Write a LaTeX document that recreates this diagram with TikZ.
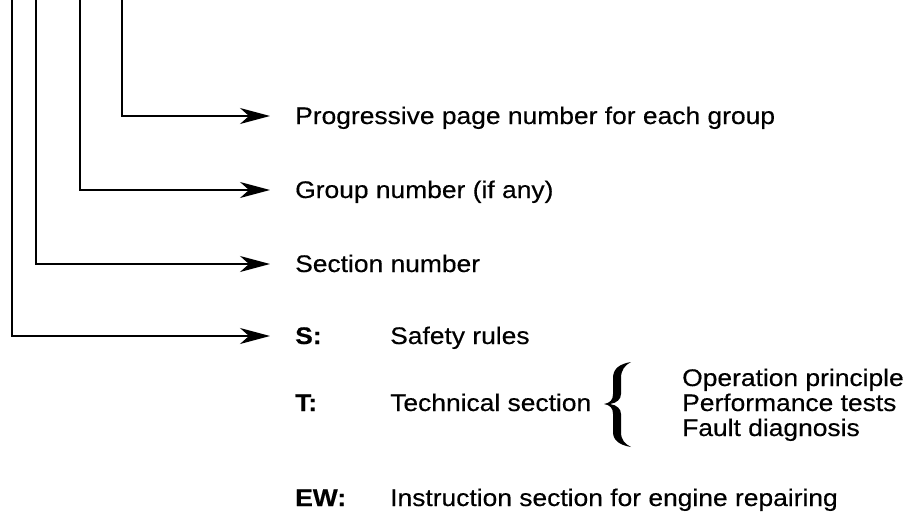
\documentclass[tikz,border=0pt]{standalone}
\usepackage{fontspec}
\setmainfont[FakeStretch=1.1,FakeBold=0.4,BoldFeatures={FakeStretch=1.1}]{Liberation Sans}
\usetikzlibrary{arrows.meta}
\begin{document}
\begin{tikzpicture}[x=1pt,y=-1pt,
  lbl/.style={anchor=base west,inner sep=0pt,font=\fontsize{24}{26}\selectfont},
  key/.style={lbl,font=\fontsize{24}{26}\selectfont\bfseries},
  conn/.style={line width=1.1pt,-{Stealth[length=30pt,width=16pt,inset=9pt]}}]
\useasboundingbox (0,0) rectangle (910,525);
% top anchors of the vertical leaders
\coordinate (c1) at (12,0);
\coordinate (c2) at (36,0);
\coordinate (c3) at (80,0);
\coordinate (c4) at (122,0);
% arrow tips
\coordinate (t1) at (270,116);
\coordinate (t2) at (270,190);
\coordinate (t3) at (270,264);
\coordinate (t4) at (270,336);
\draw[conn] (c4) |- (t1);
\draw[conn] (c3) |- (t2);
\draw[conn] (c2) |- (t3);
\draw[conn] (c1) |- (t4);
% labels
\node[lbl] (l1) at (295,124) {Progressive page number for each group};
\node[lbl] (l2) at (295,198) {Group number (if any)};
\node[lbl] (l3) at (295,272) {Section number};
\node[key] (s)  at (295,344) {S:};
\node[lbl] (sr) at (390,344) {Safety rules};
\node[key] (t)  at (295,411) {T:};
\node[lbl] (ts) at (390,411) {Technical section};
\node[lbl] (op) at (682,386) {Operation principle};
\node[lbl] (pt) at (682,411) {Performance tests};
\node[lbl] (fd) at (682,436) {Fault diagnosis};
\node[key] (ew) at (295,506) {EW:};
\node[lbl] (is) at (390,506) {Instruction section for engine repairing};
% brace
\fill (631,362) .. controls (619,364) and (613,369) .. (613,378) -- (613,394)
  .. controls (613,400) and (610,403) .. (604,404)
  .. controls (610,405) and (613,408) .. (613,414) -- (613,432)
  .. controls (613,440) and (619,445) .. (631,447)
  .. controls (625,444) and (621,440) .. (621,432) -- (621,414)
  .. controls (621,409) and (617,405) .. (610,404)
  .. controls (617,403) and (621,399) .. (621,394) -- (621,378)
  .. controls (621,370) and (625,365) .. (631,362) -- cycle;
\end{tikzpicture}
\end{document}
